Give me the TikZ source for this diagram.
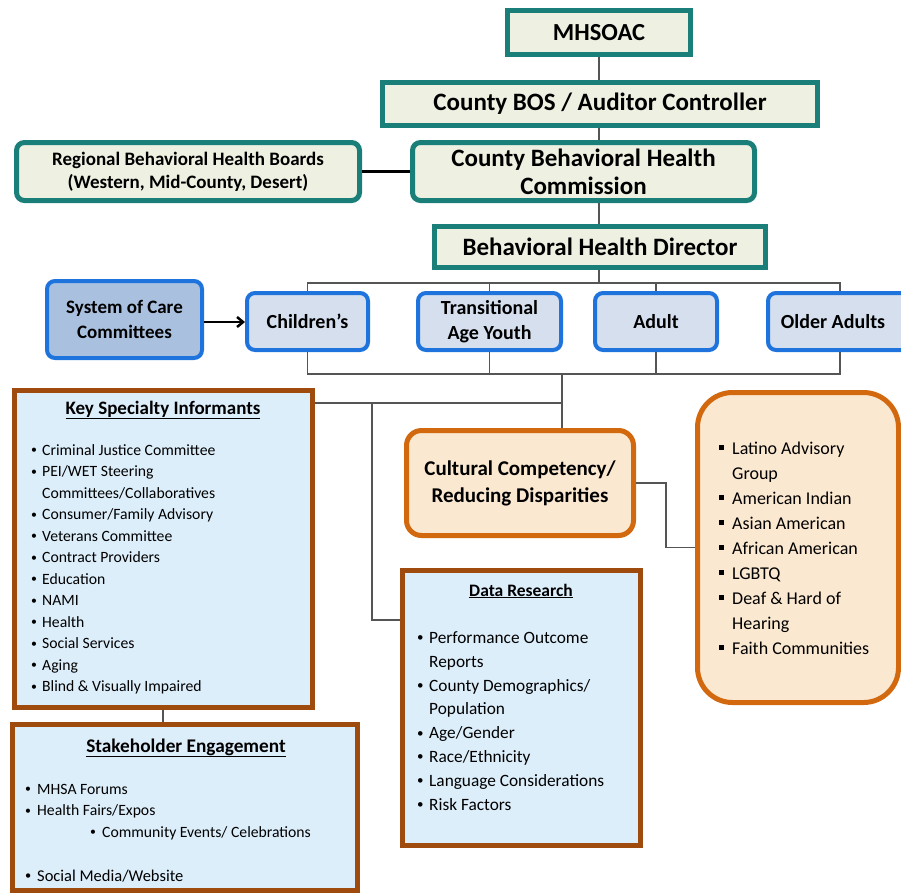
\documentclass[tikz,border=0pt]{standalone}
\usepackage{fontspec}
\setmainfont{Carlito}
\usetikzlibrary{arrows.meta}
\definecolor{tealB}{HTML}{1A7F78}
\definecolor{fillG}{HTML}{EEF1E2}
\definecolor{blueB}{HTML}{1E74DC}
\definecolor{fillB}{HTML}{D5DFEE}
\definecolor{fillSoC}{HTML}{A9C1DF}
\definecolor{brownB}{HTML}{A04B0E}
\definecolor{fillL}{HTML}{DDEEFB}
\definecolor{orangeB}{HTML}{D2690F}
\definecolor{fillO}{HTML}{FBE8D0}
\definecolor{connC}{HTML}{555555}
\newcommand{\fsz}[2]{\fontsize{#1}{#2}\selectfont}
\newcommand{\kbul}[1]{\makebox[#1][l]{\raisebox{0.09em}{\scalebox{0.75}{\textbullet}}}}
\newcommand{\sqbul}{\makebox[13pt][l]{\rule[0.22em]{0.28em}{0.28em}}}
\tikzset{
  topbox/.style={draw=tealB, line width=5pt, fill=fillG, inner sep=0pt, align=center, font=\bfseries\fsz{25}{28}},
  agebox/.style={draw=blueB, line width=4pt, fill=fillB, rounded corners=8pt, align=center, inner sep=0pt, font=\bfseries\fsz{20}{25}},
  listbox/.style={draw=brownB, line width=5pt, fill=fillL, inner sep=0pt},
  orbox/.style={draw=orangeB, line width=5pt, fill=fillO, inner sep=0pt},
  connline/.style={draw=connC, line width=1.3pt},
  itemtxt/.style={anchor=base west, inner sep=0pt},
  headtxt/.style={anchor=base, inner sep=0pt, font=\bfseries},
}
\begin{document}
\begin{tikzpicture}[x=1pt,y=-1pt]
\useasboundingbox (0,0) rectangle (901,895);
% top chain
\node[topbox, minimum width=183pt, minimum height=44pt, font=\bfseries\fsz{24.5}{28}] (mhsoac) at (599,32.5) {MHSOAC};
\node[topbox, minimum width=435pt, minimum height=43pt] (bos) at (600,104) {County BOS / Auditor Controller};
\node[topbox, rounded corners=8pt, minimum width=343pt, minimum height=58pt, font=\bfseries\fsz{19}{23}] (rbhb) at (188,171.5) {Regional Behavioral Health Boards\\(Western, Mid-County, Desert)};
\node[topbox, rounded corners=8pt, minimum width=342pt, minimum height=58pt] (cbhc) at (583.5,171.5) {County Behavioral Health\\Commission};
\node[topbox, minimum width=331pt, minimum height=41pt] (dir) at (600,247) {Behavioral Health Director};
% age groups
\node[agebox, minimum width=121pt, minimum height=57pt] (ch) at (307.5,321.5) {Children’s};
\node[agebox, minimum width=143pt, minimum height=57pt] (tay) at (489.5,321.5) {Transitional\\Age Youth};
\node[agebox, minimum width=122pt, minimum height=57pt] (ad) at (656,321.5) {Adult};
\node[agebox, minimum width=144pt, minimum height=57pt] (oa) at (840,321.5) {\hspace*{-14pt}Older Adults};
\node[agebox, fill=fillSoC, minimum width=155pt, minimum height=77pt, font=\bfseries\fsz{19}{25}] (soc) at (124.5,319.5) {System of Care\\Committees};
% lower boxes
\node[listbox, minimum width=298pt, minimum height=317pt] (ksi) at (163.5,549) {};
\node[listbox, minimum width=345pt, minimum height=166pt] (se) at (185,807.5) {};
\node[listbox, minimum width=238pt, minimum height=275pt] (dr) at (521.5,708) {};
\node[orbox, rounded corners=15pt, minimum width=227pt, minimum height=105pt, align=center, font=\bfseries\fsz{21}{27}] (cc) at (520,483) {Cultural Competency/\\Reducing Disparities};
\node[orbox, rounded corners=35pt, minimum width=201pt, minimum height=310pt] (lat) at (798,547.5) {};
% connectors top
\draw[connline] (mhsoac.south) -- (mhsoac.south |- bos.north);
\draw[connline] (mhsoac.south |- bos.south) -- (mhsoac.south |- cbhc.north);
\draw[connline] (mhsoac.south |- cbhc.south) -- (mhsoac.south |- dir.north);
\draw[black, line width=2.5pt] (rbhb.east) -- (cbhc.west);
\coordinate (busT) at (599,283);
\draw[connline] (mhsoac.south |- dir.south) -- (busT);
\draw[connline] (ch.north) |- (oa.north |- busT) -- (oa.north);
\draw[connline] (tay.north) -- (tay.north |- busT);
\draw[connline] (ad.north) -- (ad.north |- busT);
\coordinate (busB) at (562,374);
\draw[connline] (ch.south) |- (oa.south |- busB) -- (oa.south);
\draw[connline] (tay.south) -- (tay.south |- busB);
\draw[connline] (ad.south) -- (ad.south |- busB);
\coordinate (hub) at (562,403);
\coordinate (drj) at (372,403);
\draw[connline] (busB) -- (busB |- cc.north);
\draw[connline] (ksi.east |- hub) -- (hub);
\draw[connline] (drj) |- (dr.west |- 0,620);
\draw[connline] (cc.east) -- (666,483) |- (lat.west);
\draw[connline] (163,710) coordinate (ksib) -- (ksib |- se.north);
\draw[-{Straight Barb[length=6pt,width=10pt]}, black, line width=2.5pt] (soc.east |- 0,322) -- (ch.west |- 0,322);
% Key Specialty Informants
\node[headtxt, font=\bfseries\fsz{19}{20}] (ksih) at (163,414) {\underline{Key Specialty Informants}};
\foreach \t [count=\i] in {{\kbul{11pt}Criminal Justice Committee},{\kbul{11pt}PEI/WET Steering},{\hspace*{11pt}Committees/Collaboratives},{\kbul{11pt}Consumer/Family Advisory},{\kbul{11pt}Veterans Committee},{\kbul{11pt}Contract Providers},{\kbul{11pt}Education},{\kbul{11pt}NAMI},{\kbul{11pt}Health},{\kbul{11pt}Social Services},{\kbul{11pt}Aging},{\kbul{11pt}Blind \& Visually Impaired}}
  \node[itemtxt, font=\fsz{15.7}{18}] (ksi\i) at (31,{455+21.5*(\i-1)}) {\t};
% Stakeholder Engagement
\node[headtxt, font=\bfseries\fsz{19.3}{22}] (seh) at (186,752) {\underline{Stakeholder Engagement}};
\node[itemtxt, font=\fsz{15.7}{18}] (se1) at (25,794) {\kbul{12pt}MHSA Forums};
\node[itemtxt, font=\fsz{15.7}{18}] (se2) at (25,815.5) {\kbul{12pt}Health Fairs/Expos};
\node[itemtxt, font=\fsz{15.7}{18}] (se3) at (90,837) {\kbul{12pt}Community Events/ Celebrations};
\node[itemtxt, font=\fsz{16.5}{18}] (se4) at (25,881) {\kbul{12pt}Social Media/Website};
% Data Research
\node[headtxt, font=\bfseries\fsz{17.5}{20}] (drh) at (521,596) {\underline{Data Research}};
\foreach \t [count=\i] in {{\kbul{12pt}Performance Outcome},{\hspace*{12pt}Reports},{\kbul{12pt}County Demographics/},{\hspace*{12pt}Population},{\kbul{12pt}Age/Gender},{\kbul{12pt}Race/Ethnicity},{\kbul{12pt}Language Considerations},{\kbul{12pt}Risk Factors}}
  \node[itemtxt, font=\fsz{17.3}{18}] (dr\i) at (417,{643.5+23.8*(\i-1)}) {\t};
% Latino list
\foreach \t [count=\i] in {{\sqbul Latino Advisory},{\hspace*{13pt}Group},{\sqbul American Indian},{\sqbul Asian American},{\sqbul African American},{\sqbul LGBTQ},{\sqbul Deaf \& Hard of},{\hspace*{13pt}Hearing},{\sqbul Faith Communities}}
  \node[itemtxt, font=\fsz{18}{20}] (lat\i) at (719,{454+25*(\i-1)}) {\t};
\end{tikzpicture}
\end{document}
